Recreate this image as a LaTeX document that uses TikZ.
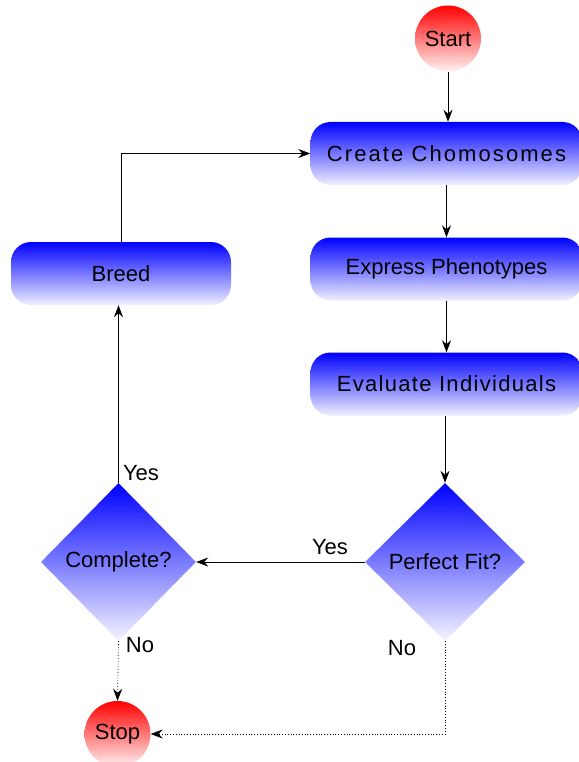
\documentclass[tikz,border=0pt]{standalone}
\usepackage{fontspec}
\setmainfont{Liberation Sans}
\newfontfamily\spacedA[LetterSpace=9.5]{Liberation Sans}
\newfontfamily\spacedB[LetterSpace=6]{Liberation Sans}
\usetikzlibrary{calc,shapes,arrows,arrows.meta,positioning}

\begin{document}
\begin{tikzpicture}[x=1pt,y=-1pt]
	\tikzstyle{every node}+=[inner sep=0pt, font=\fontsize{22}{26}\selectfont]
	\tikzstyle{terminal}=[circle, minimum size=66pt, top color=red, bottom color=red!5]
	\tikzstyle{process}=[rectangle, rounded corners=20pt, minimum height=63pt, top color=blue, bottom color=blue!6]
	\tikzstyle{decision}=[diamond, minimum width=158pt, minimum height=158pt, top color=blue, bottom color=blue!4]
	\tikzstyle{flow}=[-{Stealth[length=12pt,width=9pt,inset=4pt]}, line width=0.8pt]
	\tikzstyle{noflow}=[flow, dotted, line width=0.7pt]
	\useasboundingbox (0,0) rectangle (578,762);
	% nodes
	\node[terminal] (start) at (448,38.5) {Start};
	\node[process, minimum width=272pt] (create) at (446.5,153.5) {\spacedA Create Chomosomes};
	\node[process, minimum width=272pt] (express) at (446.5,269) {Express Phenotypes};
	\node[process, minimum width=272pt] (evaluate) at (446.5,384) {\spacedB Evaluate Individuals};
	\node[decision, minimum width=160pt] (perfect) at (445,562) {Perfect Fit?};
	\node[decision, minimum width=155pt] (complete) at (118.5,562) {Complete?};
	\node[process, minimum width=220pt] (breed) at (121,273.5) {Breed};
	\node[terminal] (stop) at (117.5,734) {Stop};
	% labels
	\node (yesfit) at (330,547) {Yes};
	\node (nofit) at (402,648) {No};
	\node (yescomp) at (141,473) {Yes};
	\node (nocomp) at (140,645) {No};
	% connectors
	\draw[flow] (start.south) -- (start.south |- create.north);
	\draw[flow] (create) -- (express);
	\draw[flow] (express) -- (evaluate);
	\draw[flow] (evaluate.south -| perfect.north) -- (perfect.north);
	\draw[flow] (perfect.west) -- (complete.east);
	\draw[flow] (complete.north) -- (complete.north |- breed.south);
	\draw[flow] (breed.north) |- (create.west);
	\draw[noflow] (complete.south) -- (stop.north);
	\draw[noflow] (perfect.south) |- (stop.east);
\end{tikzpicture}
\end{document}
